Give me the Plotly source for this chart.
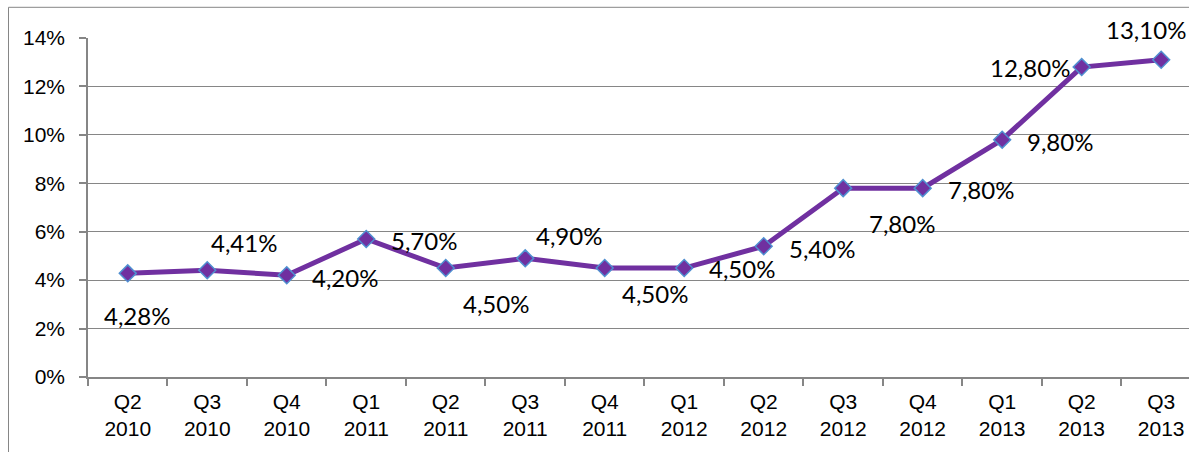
import plotly.graph_objects as go

categories = ["Q2<br>2010", "Q3<br>2010", "Q4<br>2010", "Q1<br>2011", "Q2<br>2011",
              "Q3<br>2011", "Q4<br>2011", "Q1<br>2012", "Q2<br>2012", "Q3<br>2012",
              "Q4<br>2012", "Q1<br>2013", "Q2<br>2013", "Q3<br>2013"]
values = [4.28, 4.41, 4.20, 5.70, 4.50, 4.90, 4.50, 4.50, 5.40, 7.80, 7.80, 9.80, 12.80, 13.10]
labels = ["4,28%", "4,41%", "4,20%", "5,70%", "4,50%", "4,90%", "4,50%", "4,50%",
          "5,40%", "7,80%", "7,80%", "9,80%", "12,80%", "13,10%"]
y_ticks = [0, 2, 4, 6, 8, 10, 12, 14]
y_tick_text = ["0%", "2%", "4%", "6%", "8%", "10%", "12%", "14%"]

# label offsets in pixels (dx, dy down-positive)
label_offsets = [(9, 42), (37, -28), (58, 2), (58, 2), (50, 35), (44, -23), (50, 25),
                 (58, 0), (58, 2), (59, 35), (58, 1), (58, 2), (-52, 0), (-15, -30)]

PURPLE = "#7030A0"
GRID = "#868686"

fig = go.Figure()
fig.add_trace(go.Scatter(
    x=categories, y=values, mode="lines+markers",
    line=dict(color=PURPLE, width=5),
    marker=dict(symbol="diamond", size=13, color=PURPLE,
                line=dict(color="#4F8FD0", width=1.5)),
    cliponaxis=False, hoverinfo="skip"))

for c, v, t, (dx, dy) in zip(categories, values, labels, label_offsets):
    fig.add_annotation(x=c, y=v, xref="x", yref="y", text=t, showarrow=False,
                       xshift=dx, yshift=-dy,
                       font=dict(family="Lato", size=24, color="#000000"))

fig.add_shape(type="rect", xref="paper", yref="paper",
              x0=(8.5 - 88) / 1101, x1=1.2, y0=-0.5, y1=(376.7 - 7) / 339,
              line=dict(color=GRID, width=1), fillcolor="rgba(0,0,0,0)", layer="below")

fig.update_layout(
    width=1189, height=452,
    margin=dict(l=88, r=0, t=38, b=75),
    paper_bgcolor="white", plot_bgcolor="white",
    showlegend=False,
    font=dict(family="Liberation Sans, Arial", size=21, color="#000000"),
)
fig.update_xaxes(type="category", range=[-0.5, 13.35], showgrid=False,
                 showline=True, linecolor=GRID, linewidth=1.5,
                 ticks="outside", tickson="boundaries", ticklen=7, tickcolor=GRID,
                 tickwidth=1.5, tickfont=dict(size=21), ticklabelstandoff=5)
fig.update_yaxes(range=[0, 14], tickvals=y_ticks, ticktext=y_tick_text,
                 showgrid=True, gridcolor=GRID, gridwidth=1.2,
                 showline=True, linecolor=GRID, linewidth=1.5,
                 ticks="outside", ticklen=7, tickcolor=GRID, tickwidth=1.5,
                 tickfont=dict(size=21), ticklabelstandoff=10, zeroline=False)

fig.write_html("out.html")
